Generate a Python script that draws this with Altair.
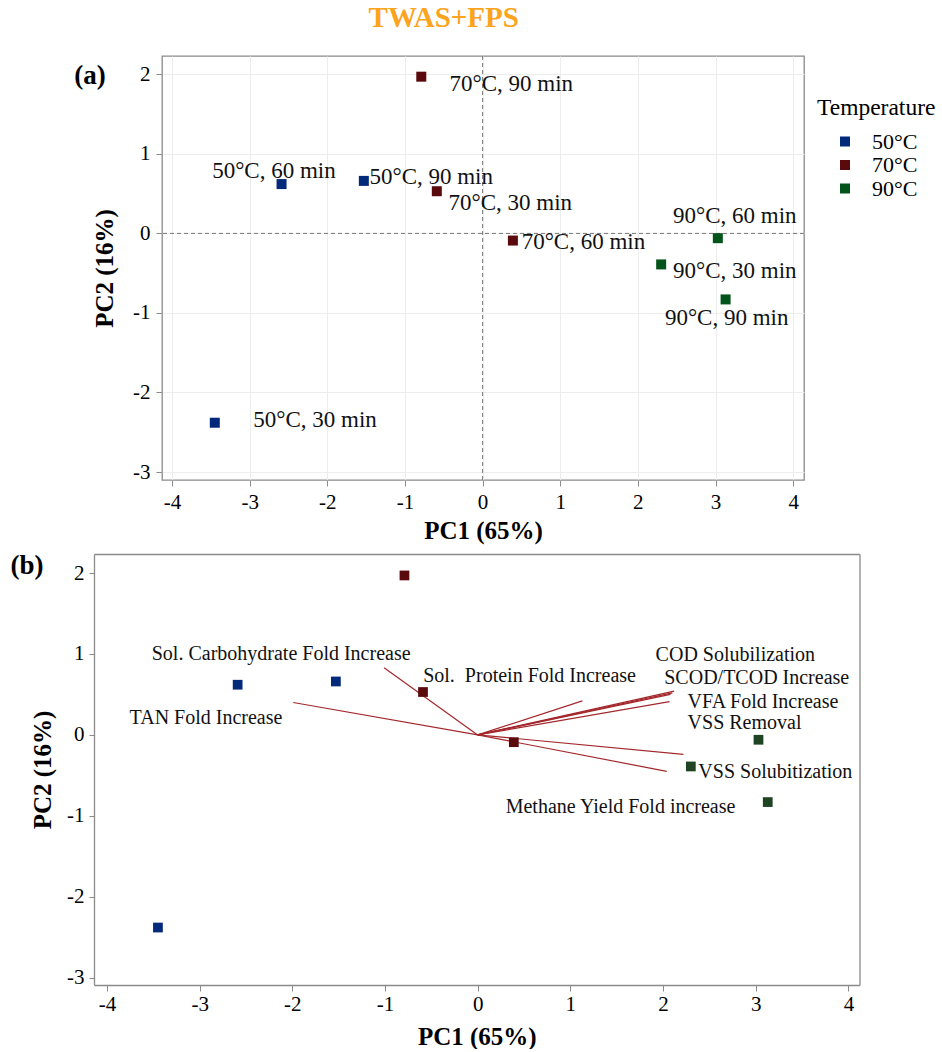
import altair as alt
import pandas as pd

FONT = "Liberation Serif"
FRAME = "#8a8a8a"

# ---- scores (samples) ----
temps = ["50°C", "50°C", "50°C", "70°C", "70°C", "70°C", "90°C", "90°C", "90°C"]
times = ["30 min", "60 min", "90 min", "30 min", "60 min", "90 min", "30 min", "60 min", "90 min"]
pc1 = [-3.45, -2.59, -1.53, -0.59, 0.39, -0.79, 2.30, 3.03, 3.13]
pc2 = [-2.38, 0.62, 0.66, 0.53, -0.09, 1.97, -0.39, -0.06, -0.83]
# repelled label anchors (data units)
label_x = [-2.955, -3.484, -1.458, -0.439, 0.503, -0.426, 2.452, 2.452, 2.348]
label_y = [-2.349, 0.779, 0.704, 0.377, -0.113, 1.872, -0.477, 0.214, -1.068]

# ---- loadings (variables) ----
variables = ["Sol. Carbohydrate Fold Increase", "Sol.\u00a0 Protein Fold Increase", "TAN Fold Increase",
             "COD Solubilization", "SCOD/TCOD Increase", "VFA Fold Increase", "VSS Removal",
             "VSS Solubitization", "Methane Yield Fold increase"]
load_x = [-1.01, 1.13, -1.99, 2.12, 2.10, 2.07, 2.08, 2.22, 2.04]
load_y = [0.83, 0.42, 0.40, 0.54, 0.52, 0.41, 0.50, -0.24, -0.45]
var_label_x = [-3.517, -0.588, -3.756, 1.920, 2.013, 2.265, 2.265, 2.381, 0.302]
var_label_y = [1.000, 0.728, 0.210, 0.988, 0.704, 0.405, 0.150, -0.457, -0.889]

temp_levels = ["50°C", "70°C", "90°C"]
colors_a = ["#03297A", "#5A0A0C", "#03541A"]
colors_b = ["#03297A", "#5A0A0C", "#1E4424"]
x_ticks = [-4, -3, -2, -1, 0, 1, 2, 3, 4]
y_ticks = [-3, -2, -1, 0, 1, 2]

scores = pd.DataFrame({"temp": temps, "time": times, "pc1": pc1, "pc2": pc2,
                       "lx": label_x, "ly": label_y})
scores["label"] = scores["temp"] + ", " + scores["time"]
loads = pd.DataFrame({"var": variables, "lx": load_x, "ly": load_y,
                      "tx": var_label_x, "ty": var_label_y})
one = pd.DataFrame({"k": [0]})

# panel (a): plot area 642 x 424
WA, HA = 642, 424
# panel (b): group origin aligned with (a); plot area reaches 68 px further left
B_LEFT = 68
WB, HB = 697.5, 431

xsa = alt.Scale(domain=[-4.13, 4.14], nice=False, zero=False)
ysa = alt.Scale(domain=[-3.10, 2.23], nice=False, zero=False)
xsb = alt.Scale(domain=[-4.14, 4.12], range=[-B_LEFT, WB], nice=False, zero=False)
ysb = alt.Scale(domain=[-3.09, 2.235], nice=False, zero=False)

lab = "'' + datum.value"

axA_x = alt.Axis(values=x_ticks, title="PC1 (65%)", titleX=WA / 2, titleY=50, titleAlign="center",
                 titleBaseline="middle", labelBaseline="middle", labelPadding=16, tickSize=6,
                 labelExpr=lab)
axA_y = alt.Axis(values=y_ticks, title="PC2 (16%)", titleX=-58, titleY=HA / 2, titleAngle=270,
                 titleAlign="center", titleBaseline="middle", labelPadding=6, tickSize=6,
                 labelExpr=lab)
axB_x = alt.Axis(values=x_ticks, title="PC1 (65%)", titleX=(WB - B_LEFT) / 2, titleY=51,
                 titleAlign="center", titleBaseline="middle", labelBaseline="middle",
                 labelPadding=13, tickSize=6, labelExpr=lab, domain=True, domainColor=FRAME,
                 domainWidth=1.3)
axB_y = alt.Axis(values=y_ticks, title="PC2 (16%)", titleX=-52, titleY=HB / 2, titleAngle=270,
                 titleAlign="center", titleBaseline="middle", labelPadding=5, tickSize=5,
                 labelExpr=lab, offset=B_LEFT, domain=True, domainColor=FRAME, domainWidth=1.3)
axB_top = alt.Axis(orient="top", labels=False, ticks=False, grid=False, title=None, domain=True,
                   domainColor=FRAME, domainWidth=1.3)
axB_right = alt.Axis(orient="right", labels=False, ticks=False, grid=False, title=None, domain=True,
                     domainColor=FRAME, domainWidth=1.3)

# ---------------- panel (a) ----------------
baseA = alt.Chart(scores)
ptsA = baseA.mark_square(size=100, opacity=1).encode(
    x=alt.X("pc1:Q", scale=xsa, axis=axA_x),
    y=alt.Y("pc2:Q", scale=ysa, axis=axA_y),
    color=alt.Color("temp:N", scale=alt.Scale(domain=temp_levels, range=colors_a),
                    legend=alt.Legend(title="Temperature", orient="none", legendX=655, legendY=40,
                                      titleFont=FONT, titleFontSize=23.5, titleFontWeight="normal",
                                      titleColor="black", titlePadding=11,
                                      labelFont=FONT, labelFontSize=22, labelColor="black",
                                      symbolType="square", symbolSize=100, symbolOffset=17,
                                      labelOffset=16, rowPadding=1.5, symbolStrokeWidth=0)),
)
lblA = baseA.mark_text(font=FONT, fontSize=23, align="left", baseline="middle", color="#111").encode(
    x=alt.X("lx:Q", scale=xsa, axis=axA_x),
    y=alt.Y("ly:Q", scale=ysa, axis=axA_y),
    text="label:N",
)
zeroA_v = alt.Chart(one).mark_rule(color="#777", strokeDash=[4, 3], strokeWidth=1).encode(
    x=alt.X("k:Q", scale=xsa, axis=axA_x))
zeroA_h = alt.Chart(one).mark_rule(color="#777", strokeDash=[4, 3], strokeWidth=1).encode(
    y=alt.Y("k:Q", scale=ysa, axis=axA_y))
tagA = alt.Chart(pd.DataFrame({"tag": ["(a)"]})).mark_text(
    font=FONT, fontSize=27, fontWeight="bold", align="center", baseline="middle", color="black"
).encode(text="tag:N", x=alt.value(-72), y=alt.value(20))
boundA = alt.Chart(one).mark_rule(color="white").encode(
    x=alt.value(-160), y=alt.value(HA), y2=alt.value(490))

panelA = alt.layer(boundA, zeroA_v, zeroA_h, ptsA, lblA, tagA).properties(width=WA, height=HA)

# ---------------- panel (b) ----------------
ptsB = alt.Chart(scores).mark_square(size=95, opacity=1).encode(
    x=alt.X("pc1:Q", scale=xsb, axis=axB_x),
    y=alt.Y("pc2:Q", scale=ysb, axis=axB_y),
    color=alt.Color("temp:N", scale=alt.Scale(domain=temp_levels, range=colors_b), legend=None),
)
arrowsB = alt.Chart(loads).transform_calculate(ox="0", oy="0").mark_rule(
    color="#A3282C", strokeWidth=1.2).encode(
    x=alt.X("ox:Q", scale=xsb, axis=None),
    y=alt.Y("oy:Q", scale=ysb, axis=None),
    x2="lx:Q", y2="ly:Q",
)
lblB = alt.Chart(loads).mark_text(font=FONT, fontSize=20, align="left", baseline="middle",
                                  color="#111").encode(
    x=alt.X("tx:Q", scale=xsb, axis=None),
    y=alt.Y("ty:Q", scale=ysb, axis=None),
    text="var:N",
)
frameB = alt.Chart(one).mark_point(opacity=0).encode(
    x=alt.X("k:Q", scale=xsb, axis=axB_top),
    y=alt.Y("k:Q", scale=ysb, axis=axB_right),
)
tagB = alt.Chart(pd.DataFrame({"tag": ["(b)"]})).mark_text(
    font=FONT, fontSize=27, fontWeight="bold", align="center", baseline="middle", color="black"
).encode(text="tag:N", x=alt.value(25 - 160), y=alt.value(12))
boundB = alt.Chart(one).mark_rule(color="white").encode(
    x=alt.value(-160), y=alt.value(-5), y2=alt.value(0))

panelB = alt.layer(boundB, frameB, arrowsB, ptsB, lblB, tagB).resolve_axis(
    x="independent", y="independent"
).properties(width=WB, height=HB, view=alt.ViewBackground(stroke=None))

chart = alt.vconcat(panelA, panelB, spacing=0).resolve_scale(
    x="independent", y="independent", color="independent"
).resolve_legend(color="independent").properties(
    title=alt.TitleParams("TWAS+FPS", fontSize=29, font=FONT, fontWeight="bold", color="#FCA41E",
                          anchor="middle", offset=22, dx=-25),
    padding={"left": 0, "top": 3, "right": 0, "bottom": 0},
).configure_view(stroke=FRAME, strokeWidth=1.3).configure_axis(
    domain=False, tickColor=FRAME, gridColor="#EDEDED", labelFont=FONT, labelFontSize=21,
    labelColor="black", titleFont=FONT, titleFontSize=25, titleFontWeight="bold", titleColor="black",
)

chart.save("out.html", embed_options={"renderer": "svg", "actions": False})
